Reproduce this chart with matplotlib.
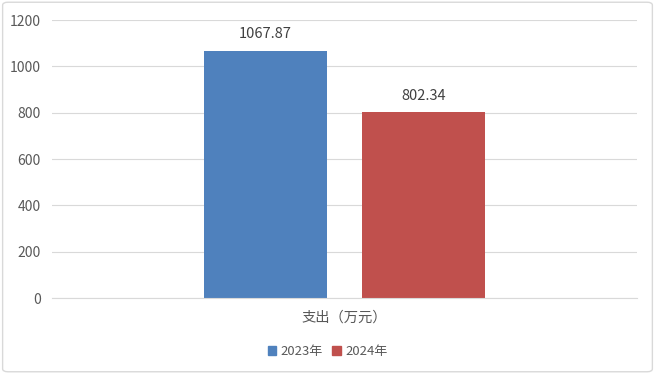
import matplotlib.pyplot as plt
from matplotlib.patches import FancyBboxPatch, Patch

plt.rcParams['font.family'] = ['Noto Sans CJK SC', 'DejaVu Sans']

category = '支出（万元）'
years = ['2023年', '2024年']
values = [1067.87, 802.34]
colors = ['#4F81BD', '#C0504D']
yticks = [0, 200, 400, 600, 800, 1000, 1200]

fig = plt.figure(figsize=(6.55, 3.74), dpi=100)
ax = fig.add_axes([0.0794, 0.2032, 0.8931, 0.7433])

offsets = [-0.135, 0.135]
width = 0.21
for off, v, c, lab in zip(offsets, values, colors, years):
    ax.bar(off, v, width=width, color=c, label=lab, zorder=2)
    ax.text(off, v + 40, f'{v:.2f}', ha='center', va='bottom',
            fontsize=10.5, color='#404040')

ax.set_xlim(-0.5, 0.5)
ax.set_ylim(0, 1200)
ax.set_yticks(yticks)
ax.set_yticklabels([str(t) for t in yticks], fontsize=10, color='#595959')
ax.set_xticks([0])
ax.set_xticklabels([category], fontsize=10.3, color='#595959')
ax.tick_params(axis='both', length=0)
ax.tick_params(axis='y', pad=8)
ax.tick_params(axis='x', pad=9)
ax.grid(axis='y', color='#D9D9D9', linewidth=0.8, zorder=0)
for s in ['top', 'right', 'left']:
    ax.spines[s].set_visible(False)
ax.spines['bottom'].set_color('#D9D9D9')
ax.spines['bottom'].set_zorder(3)

handles = [Patch(color=c, label=l) for c, l in zip(colors, years)]
fig.legend(handles=handles, loc='center', bbox_to_anchor=(0.5, 0.06), ncol=2,
           frameon=False, fontsize=9.4, handlelength=0.65, handleheight=0.65,
           handletextpad=0.35, columnspacing=0.7, labelcolor='#595959')

border = FancyBboxPatch((0.004, 0.006), 0.992, 0.988, boxstyle='round,pad=0,rounding_size=0.008',
                        transform=fig.transFigure, fill=False, edgecolor='#D9D9D9', linewidth=1)
fig.patches.append(border)

fig.savefig('out.png', dpi=100)
